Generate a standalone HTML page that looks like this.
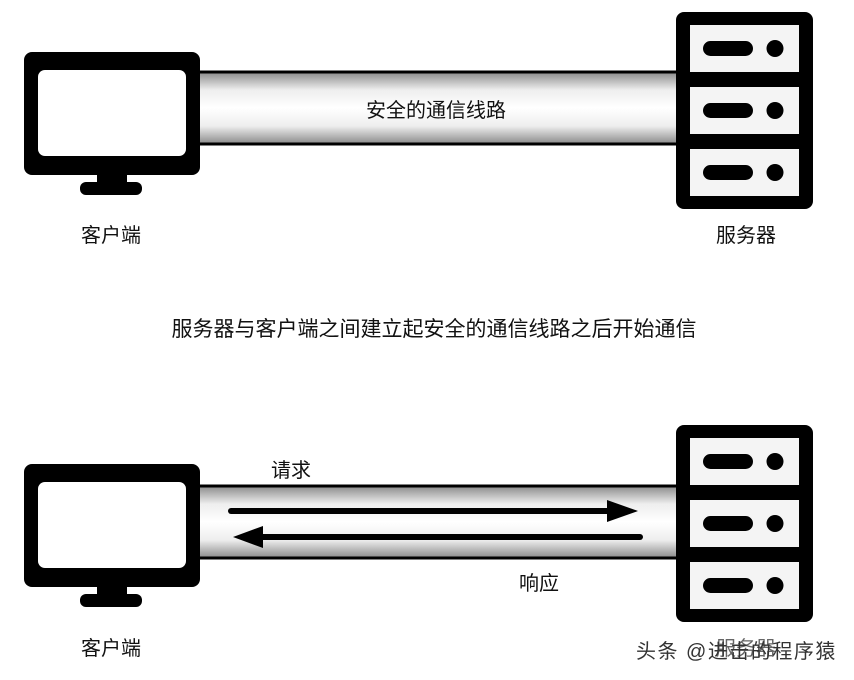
<!DOCTYPE html>
<html><head><meta charset="utf-8"><style>
html,body{margin:0;padding:0;background:#fff;}
svg{display:block}
text{font-family:"Liberation Sans","Noto Sans CJK SC",sans-serif;font-size:20px;fill:#111;}
</style></head><body>
<svg width="854" height="680" viewBox="0 0 854 680" xmlns="http://www.w3.org/2000/svg">
<defs>
<linearGradient id="pg" x1="0" y1="0" x2="0" y2="1">
<stop offset="0" stop-color="#8a8a8a"/><stop offset="0.25" stop-color="#eeeeee"/>
<stop offset="0.5" stop-color="#ffffff"/><stop offset="0.75" stop-color="#eeeeee"/><stop offset="1" stop-color="#8a8a8a"/>
</linearGradient>
<g id="mon">
<rect x="24" y="0" width="176" height="123" rx="8" fill="#000"/>
<rect x="38" y="18" width="148" height="86" rx="7" fill="#fff"/>
<rect x="97" y="120" width="30" height="14" fill="#000"/>
<rect x="80" y="130" width="62" height="13" rx="6" fill="#000"/>
</g>
<g id="srv">
<rect x="676" y="0" width="137" height="197" rx="8" fill="#000"/>
<rect x="690" y="13" width="109" height="47" fill="#f4f4f4"/>
<rect x="690" y="75" width="109" height="47" fill="#f4f4f4"/>
<rect x="690" y="137" width="109" height="47" fill="#f4f4f4"/>
<rect x="703" y="29" width="50" height="15" rx="7.5" fill="#000"/>
<circle cx="775" cy="36.5" r="8.5" fill="#000"/>
<rect x="703" y="91" width="50" height="15" rx="7.5" fill="#000"/>
<circle cx="775" cy="98.5" r="8.5" fill="#000"/>
<rect x="703" y="153" width="50" height="15" rx="7.5" fill="#000"/>
<circle cx="775" cy="160.5" r="8.5" fill="#000"/>
</g>
<g id="pipe">
<rect x="195" y="0" width="482" height="72" fill="url(#pg)"/>
<line x1="195" y1="0" x2="677" y2="0" stroke="#000" stroke-width="3"/>
<line x1="195" y1="72" x2="677" y2="72" stroke="#000" stroke-width="3"/>
<line x1="196" y1="0" x2="196" y2="72" stroke="#000" stroke-width="3"/>
</g>
</defs>
<!-- top -->
<use href="#pipe" y="72"/>
<use href="#mon" y="52"/>
<use href="#srv" y="12"/>
<text x="436" y="117" text-anchor="middle">安全的通信线路</text>
<text x="111" y="242" text-anchor="middle">客户端</text>
<text x="746" y="242" text-anchor="middle">服务器</text>
<text x="434" y="336" text-anchor="middle" style="font-size:21px">服务器与客户端之间建立起安全的通信线路之后开始通信</text>
<!-- bottom -->
<use href="#pipe" y="486"/>
<use href="#mon" y="464"/>
<use href="#srv" y="425"/>
<line x1="231" y1="511" x2="610" y2="511" stroke="#000" stroke-width="6" stroke-linecap="round"/>
<polygon points="607,500 638,511 607,522" fill="#000"/>
<line x1="262" y1="537" x2="640" y2="537" stroke="#000" stroke-width="6" stroke-linecap="round"/>
<polygon points="263,526 233,537 263,548" fill="#000"/>
<text x="291" y="477" text-anchor="middle">请求</text>
<text x="539" y="590" text-anchor="middle">响应</text>
<text x="111" y="655" text-anchor="middle">客户端</text>
<text x="746" y="655" text-anchor="middle" style="fill:#666">服务器</text>
<text x="636" y="658" style="fill:#333;font-size:20px;letter-spacing:1.5px">头条 @进击的程序猿</text>
</svg>
</body></html>
